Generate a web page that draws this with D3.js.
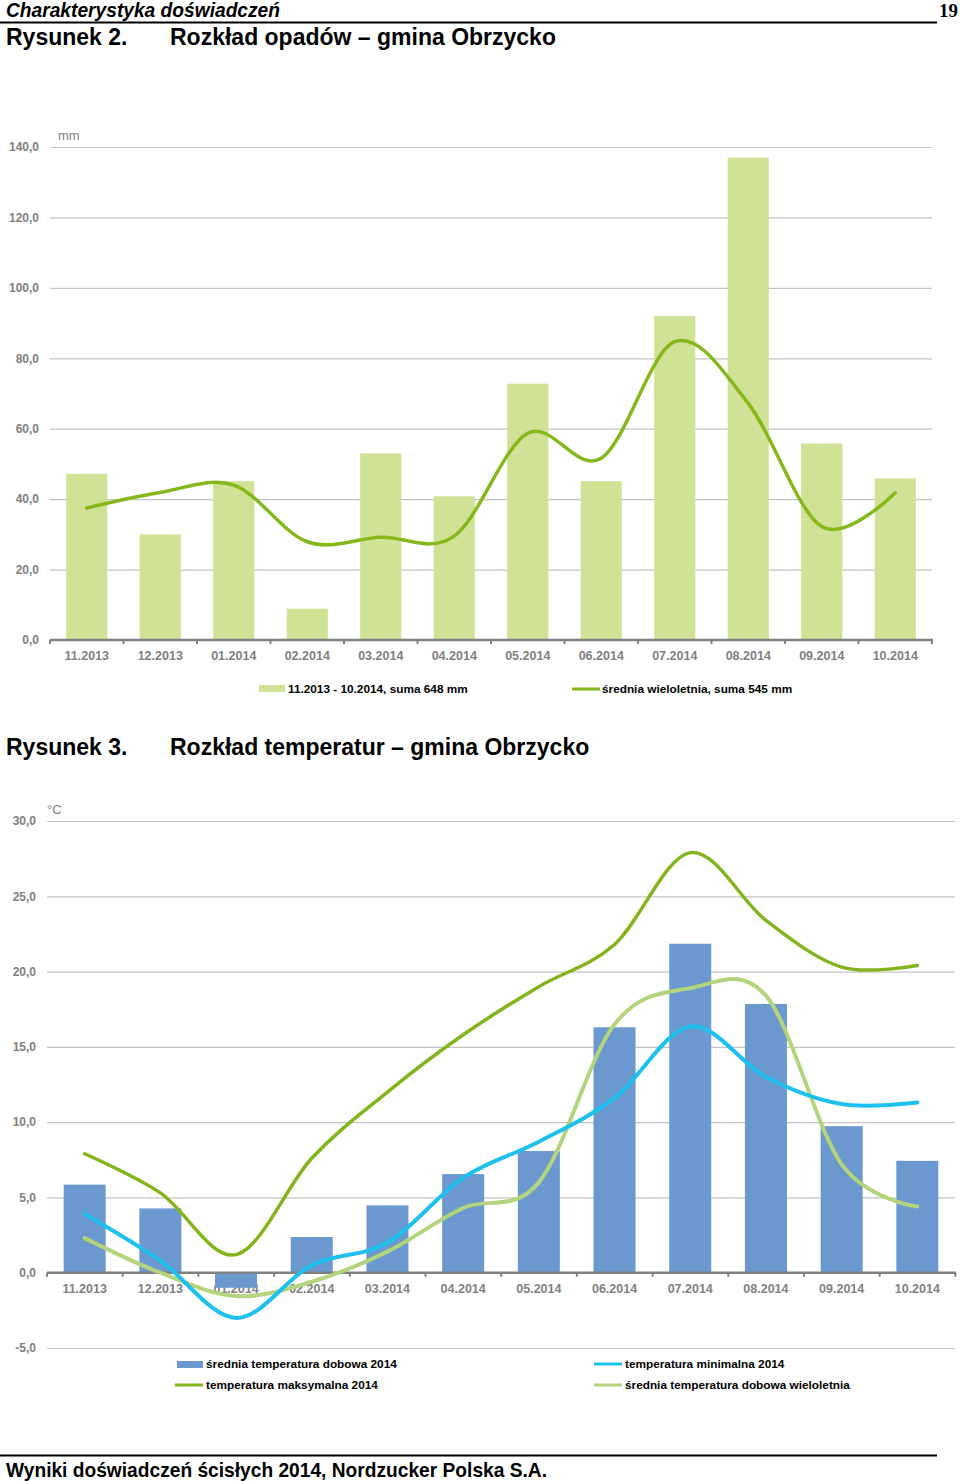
<!DOCTYPE html>
<html>
<head>
<meta charset="utf-8">
<script src="https://cdn.jsdelivr.net/npm/d3@7"></script>
<style>
  body { margin: 0; background: #fff; }
  svg { display: block; }
  .tick text { font-family: Arial, "Liberation Sans", sans-serif; }
</style>
</head>
<body>
<div id="page"></div>
<script>
// --- data ---
const months = ['11.2013', '12.2013', '01.2014', '02.2014', '03.2014', '04.2014',
  '05.2014', '06.2014', '07.2014', '08.2014', '09.2014', '10.2014']

// Rysunek 2 - opady (mm)
const rain2014 = [47.2, 30.0, 45.1, 8.9, 53.0, 40.8, 72.8, 45.1, 92.0, 137.0, 55.8, 45.9]
const rainLongTerm = [37.5, 41.9, 44.0, 27.9, 29.2, 29.5, 58.7, 51.6, 84.7, 67.2, 32.2, 41.8]
const rainTicks = [0, 20, 40, 60, 80, 100, 120, 140]
const rainLegend = ['11.2013 - 10.2014, suma 648 mm', 'średnia wieloletnia, suma 545 mm']

// Rysunek 3 - temperatury (°C)
const tempMean2014 = [5.85, 4.27, -1.0, 2.37, 4.47, 6.55, 8.08, 16.3, 21.85, 17.85, 9.73, 7.43]
const tempMax2014 = [7.9, 5.3, 1.2, 7.6, 12.0, 15.8, 19.0, 21.8, 27.9, 23.4, 20.3, 20.4]
const tempMin2014 = [3.9, 0.8, -3.0, 0.5, 2.0, 6.3, 8.7, 11.6, 16.35, 13.0, 11.2, 11.3]
const tempLongTerm = [2.3, 0.0, -1.55, -0.6, 1.4, 4.3, 6.0, 16.5, 18.9, 18.4, 7.2, 4.4]
const tempTicks = [-5, 0, 5, 10, 15, 20, 25, 30]
const tempLegend = ['średnia temperatura dobowa 2014', 'temperatura minimalna 2014',
  'temperatura maksymalna 2014', 'średnia temperatura dobowa wieloletnia']

const GREY = '#808080'
const FONT = 'Arial, "Liberation Sans", sans-serif'

const svg = d3.select('#page').append('svg')
  .attr('width', 960)
  .attr('height', 1481)

// page header / footer
svg.append('text')
  .attr('x', 6).attr('y', 17)
  .attr('textLength', 274).attr('lengthAdjust', 'spacingAndGlyphs')
  .style('font-family', FONT)
  .style('font-style', 'italic')
  .style('font-weight', 'bold')
  .style('font-size', '20px')
  .text('Charakterystyka doświadczeń')
svg.append('text')
  .attr('x', 958).attr('y', 17)
  .attr('text-anchor', 'end')
  .style('font-family', '"Liberation Serif", "Times New Roman", serif')
  .style('font-weight', 'bold')
  .style('font-size', '19px')
  .text('19')
svg.append('line')
  .attr('x1', 0).attr('x2', 937).attr('y1', 22.5).attr('y2', 22.5)
  .attr('stroke', '#000').attr('stroke-width', 2)
svg.append('line')
  .attr('x1', 0).attr('x2', 937).attr('y1', 1455.5).attr('y2', 1455.5)
  .attr('stroke', '#000').attr('stroke-width', 2)
svg.append('text')
  .attr('x', 6).attr('y', 1477)
  .attr('textLength', 541).attr('lengthAdjust', 'spacingAndGlyphs')
  .style('font-family', FONT)
  .style('font-weight', 'bold')
  .style('font-size', '21px')
  .text('Wyniki doświadczeń ścisłych 2014, Nordzucker Polska S.A.')

function figTitle (y, num, title) {
  const g = svg.append('g')
    .style('font-family', FONT)
    .style('font-weight', 'bold')
    .style('font-size', '23px')
  g.append('text').attr('x', 6).attr('y', y).text(num)
  g.append('text').attr('x', 170).attr('y', y).text(title)
}
figTitle(45, 'Rysunek 2.', 'Rozkład opadów – gmina Obrzycko')
figTitle(755, 'Rysunek 3.', 'Rozkład temperatur – gmina Obrzycko')

const fmt = d => d.toFixed(1).replace('.', ',')

// common axes drawing
function drawAxes (g, x, y, ticks, unit, unitDx, x0, x1) {
  const yAxis = g.append('g')
    .attr('transform', `translate(${x0},0)`)
    .call(d3.axisLeft(y).tickValues(ticks.filter(t => t !== 0)).tickSize(-(x1 - x0)).tickFormat(fmt))
  yAxis.select('.domain').remove()
  yAxis.selectAll('.tick line').attr('stroke', '#c4c4c4').attr('stroke-width', 1.2)
  yAxis.selectAll('.tick text')
    .attr('x', -11)
    .attr('fill', GREY)
    .style('font-size', '12px')
    .style('font-weight', 'bold')
  // zero label
  g.append('text')
    .attr('x', x0 - 11).attr('y', y(0)).attr('dy', '0.32em')
    .attr('text-anchor', 'end')
    .attr('fill', GREY)
    .style('font-family', FONT).style('font-size', '12px').style('font-weight', 'bold')
    .text(fmt(0))
  g.append('text')
    .attr('x', x0 + unitDx).attr('y', y(ticks[ticks.length - 1]) - 7)
    .attr('fill', GREY)
    .style('font-family', FONT).style('font-size', '13px')
    .text(unit)
}

function drawBaseline (g, x, y, x0, x1) {
  g.append('line')
    .attr('x1', x0).attr('x2', x1 + 1)
    .attr('y1', y(0)).attr('y2', y(0))
    .attr('stroke', GREY).attr('stroke-width', 2.5)
  const step = x.step()
  const bounds = d3.range(months.length + 1).map(i => x0 + i * step)
  g.selectAll('.xt').data(bounds).join('line')
    .attr('class', 'xt')
    .attr('x1', d => d).attr('x2', d => d)
    .attr('y1', y(0)).attr('y2', y(0) + 4)
    .attr('stroke', GREY).attr('stroke-width', 2)
}

function drawXLabels (g, x, yPos) {
  g.selectAll('.xl').data(months).join('text')
    .attr('class', 'xl')
    .attr('x', d => x(d) + x.bandwidth() / 2)
    .attr('y', yPos)
    .attr('text-anchor', 'middle')
    .attr('fill', GREY)
    .style('font-family', FONT).style('font-size', '12.5px').style('font-weight', 'bold')
    .text(d => d)
}

function legendText (g, xPos, yPos, label) {
  g.append('text')
    .attr('x', xPos).attr('y', yPos).attr('dy', '0.35em')
    .style('font-family', FONT).style('font-size', '11.8px').style('font-weight', 'bold')
    .text(label)
}

// ---------- Rysunek 2 ----------
{
  const x0 = 50
  const x1 = 932
  const g = svg.append('g')
  const x = d3.scaleBand().domain(months).range([x0, x1]).paddingInner(0.44).paddingOuter(0.22)
  const y = d3.scaleLinear().domain([0, 140]).range([640, 147])

  drawAxes(g, x, y, rainTicks, 'mm', 8, x0, x1)

  g.selectAll('.bar').data(rain2014).join('rect')
    .attr('class', 'bar')
    .attr('x', (d, i) => x(months[i]))
    .attr('width', x.bandwidth())
    .attr('y', d => y(d))
    .attr('height', d => y(0) - y(d))
    .attr('fill', '#cfe295')

  drawBaseline(g, x, y, x0, x1)
  drawXLabels(g, x, 660)

  const line = d3.line()
    .x((d, i) => x(months[i]) + x.bandwidth() / 2)
    .y(d => y(d))
    .curve(d3.curveCardinal.tension(0))
  g.append('path')
    .datum(rainLongTerm)
    .attr('d', line)
    .attr('fill', 'none')
    .attr('stroke', '#86b71b')
    .attr('stroke-width', 3.5)
    .attr('stroke-linecap', 'round')

  // legend
  g.append('rect').attr('x', 259).attr('y', 685).attr('width', 26).attr('height', 7).attr('fill', '#cfe295')
  legendText(g, 288, 688.5, rainLegend[0])
  g.append('line').attr('x1', 572).attr('x2', 600).attr('y1', 689).attr('y2', 689)
    .attr('stroke', '#86b71b').attr('stroke-width', 3)
  legendText(g, 602, 688.5, rainLegend[1])
}

// ---------- Rysunek 3 ----------
{
  const x0 = 47
  const x1 = 955
  const g = svg.append('g')
  const x = d3.scaleBand().domain(months).range([x0, x1]).paddingInner(0.445).paddingOuter(0.22)
  const y = d3.scaleLinear().domain([-5, 30]).range([1348, 821])

  drawAxes(g, x, y, tempTicks, '°C', 0, x0, x1)

  drawXLabels(g, x, 1293)

  g.selectAll('.bar').data(tempMean2014).join('rect')
    .attr('class', 'bar')
    .attr('x', (d, i) => x(months[i]))
    .attr('width', x.bandwidth())
    .attr('y', d => y(Math.max(0, d)))
    .attr('height', d => Math.abs(y(0) - y(d)))
    .attr('fill', '#6a98cf')

  drawBaseline(g, x, y, x0, x1)

  const line = d3.line()
    .x((d, i) => x(months[i]) + x.bandwidth() / 2)
    .y(d => y(d))
    .curve(d3.curveCardinal.tension(0))

  const series = [
    { values: tempLongTerm, color: '#b3d47c', width: 4 },
    { values: tempMin2014, color: '#1ec0ee', width: 4 },
    { values: tempMax2014, color: '#84b41c', width: 3.5 }
  ]
  g.selectAll('.ln').data(series).join('path')
    .attr('class', 'ln')
    .attr('d', d => line(d.values))
    .attr('fill', 'none')
    .attr('stroke', d => d.color)
    .attr('stroke-width', d => d.width)
    .attr('stroke-linecap', 'round')

  // legend
  g.append('rect').attr('x', 177).attr('y', 1361).attr('width', 26).attr('height', 7).attr('fill', '#6a98cf')
  legendText(g, 206, 1364, tempLegend[0])
  g.append('line').attr('x1', 594).attr('x2', 622).attr('y1', 1364).attr('y2', 1364)
    .attr('stroke', '#1ec0ee').attr('stroke-width', 3)
  legendText(g, 625, 1364, tempLegend[1])
  g.append('line').attr('x1', 175).attr('x2', 203).attr('y1', 1385).attr('y2', 1385)
    .attr('stroke', '#84b41c').attr('stroke-width', 3)
  legendText(g, 206, 1385, tempLegend[2])
  g.append('line').attr('x1', 594).attr('x2', 622).attr('y1', 1385).attr('y2', 1385)
    .attr('stroke', '#b3d47c').attr('stroke-width', 3)
  legendText(g, 625, 1385, tempLegend[3])
}
</script>
</body>
</html>
